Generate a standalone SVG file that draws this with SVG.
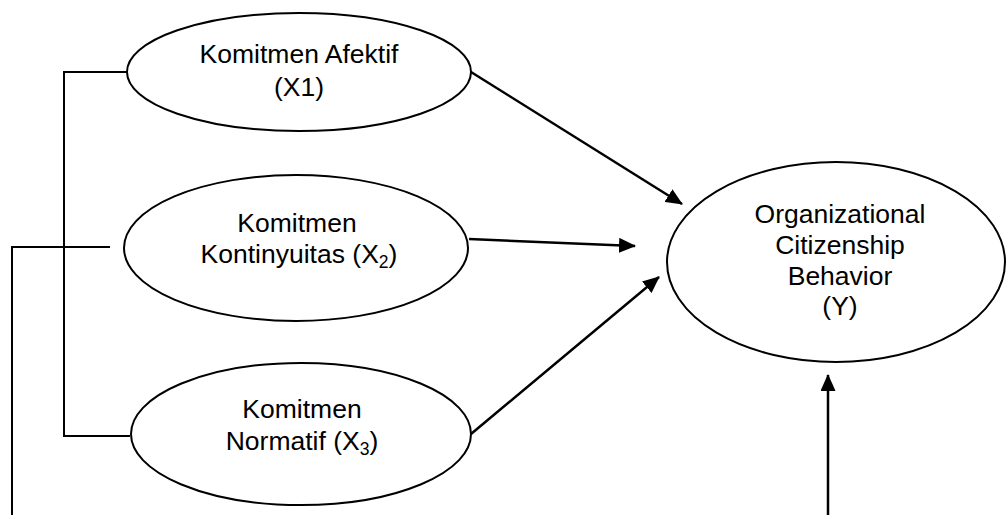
<svg xmlns="http://www.w3.org/2000/svg" width="1008" height="515" viewBox="0 0 1008 515">
  <style>
    .node { fill: #ffffff; stroke: #000000; stroke-width: 2; }
    .lbl { font-family: "Liberation Sans", Arial, sans-serif; font-size: 26.5px; fill: #000000; text-anchor: middle; }
    .sub { font-size: 17.5px; }
    .wire { fill: none; stroke: #000000; stroke-width: 2; }
    .arrow { fill: none; stroke: #000000; stroke-width: 2.5; marker-end: url(#head); }
  </style>
  <defs>
    <marker id="head" markerWidth="17" markerHeight="15" refX="16" refY="7.5" orient="auto" markerUnits="userSpaceOnUse">
      <path d="M0,0 L17,7.5 L0,15 Z" fill="#000000"/>
    </marker>
  </defs>
  <rect width="1008" height="515" fill="#ffffff"/>

  <!-- connectors -->
  <g id="connectors">
    <!-- correlation bracket joining the three commitment variables -->
    <path class="wire" d="M127,72 H64 V436 H130"/>
    <path class="wire" d="M12,515 V247 H110"/>
    <!-- paths to OCB -->
    <line class="arrow" x1="471" y1="72" x2="682" y2="204"/>
    <line class="arrow" x1="469" y1="239" x2="635" y2="246"/>
    <line class="arrow" x1="471" y1="434" x2="659" y2="277"/>
    <line class="arrow" x1="828" y1="515" x2="828" y2="375"/>
  </g>

  <g id="x1">
    <ellipse class="node" cx="299" cy="72" rx="172" ry="59"/>
    <text class="lbl" x="299" y="63">Komitmen Afektif</text>
    <text class="lbl" x="299" y="96">(X1)</text>
  </g>

  <g id="x2">
    <ellipse class="node" cx="296" cy="248" rx="172" ry="73"/>
    <text class="lbl" x="297" y="232">Komitmen</text>
    <text class="lbl" x="299" y="263">Kontinyuitas (X<tspan class="sub" dy="5">2</tspan><tspan dy="-5">)</tspan></text>
  </g>

  <g id="x3">
    <ellipse class="node" cx="301" cy="434" rx="170" ry="71"/>
    <text class="lbl" x="302" y="418">Komitmen</text>
    <text class="lbl" x="302" y="450">Normatif (X<tspan class="sub" dy="5">3</tspan><tspan dy="-5">)</tspan></text>
  </g>

  <g id="y">
    <ellipse class="node" cx="836" cy="262" rx="169" ry="100"/>
    <text class="lbl" x="840" y="223">Organizational</text>
    <text class="lbl" x="840" y="254">Citizenship</text>
    <text class="lbl" x="840" y="285">Behavior</text>
    <text class="lbl" x="840" y="315">(Y)</text>
  </g>
</svg>
